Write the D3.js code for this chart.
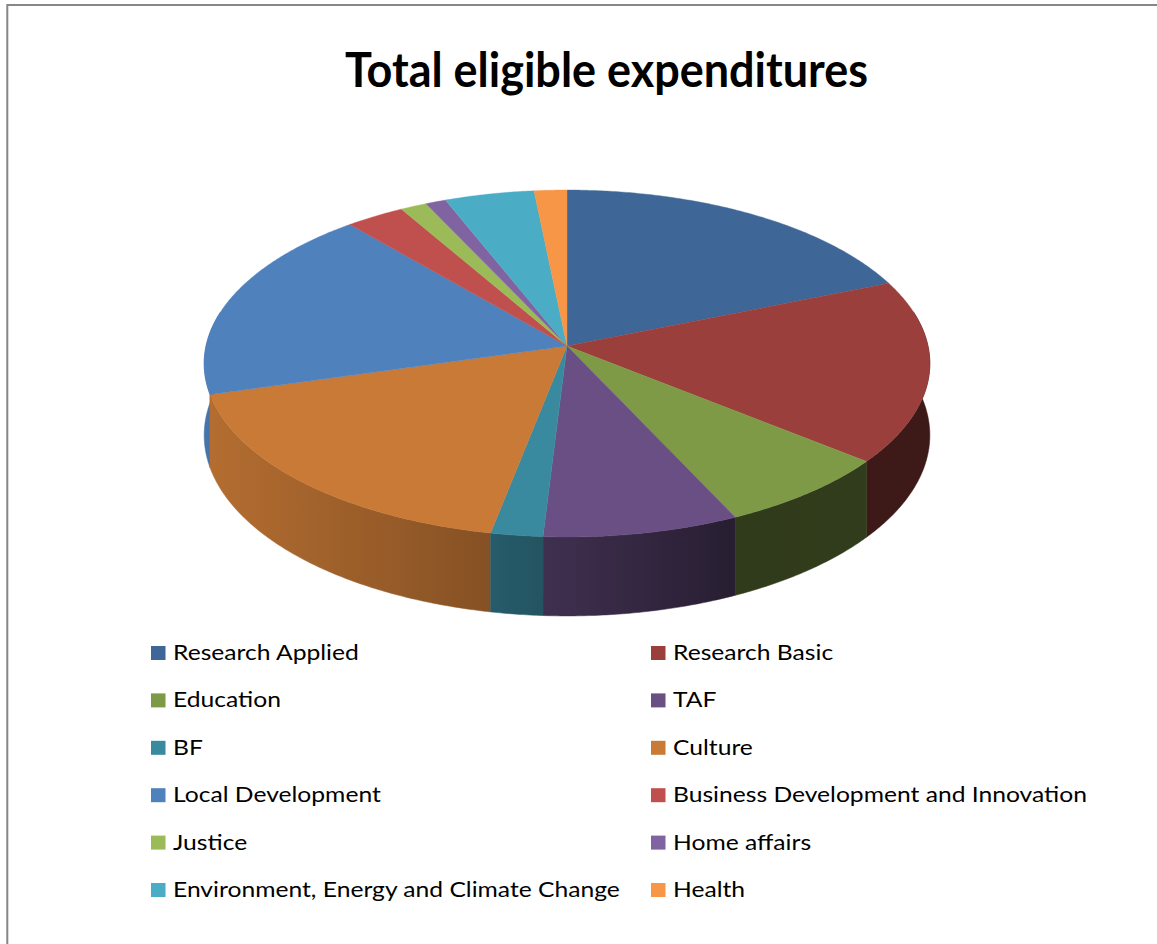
<!DOCTYPE html>
<html>
<head>
<meta charset="utf-8">
<script src="https://cdn.jsdelivr.net/npm/d3@7"></script>
<style>
  html, body { margin: 0; padding: 0; background: #fff; }
  svg { display: block; }
</style>
</head>
<body>
<svg id="chart" width="1157" height="944"></svg>
<script>
// Chart content
const chartTitle = "Total eligible expenditures";
const categories = [
  "Research Applied", "Research Basic", "Education", "TAF", "BF", "Culture",
  "Local Development", "Business Development and Innovation", "Justice",
  "Home affairs", "Environment, Energy and Climate Change", "Health"
];
// Share of total eligible expenditures (%)
const shares = [18.8, 17.0, 7.2, 7.9, 2.1, 17.5, 18.2, 2.9, 1.3, 1.0, 4.4, 1.6];
const sliceColors = [
  "#3e6798", "#9a3f3c", "#7e9a47", "#694f84", "#3a8a9f", "#c97a36",
  "#4f81bd", "#c0504d", "#9bbb59", "#8064a2", "#4bacc6", "#f79646"
];

const svg = d3.select("#chart");
const W = 1157, H = 944;
const defs = svg.append("defs");

// Frame
svg.append("path")
  .attr("d", `M7.3,${H} V5 H${W}`)
  .attr("fill", "none")
  .attr("stroke", "#878787")
  .attr("stroke-width", 2);

// Title
svg.append("text")
  .attr("x", 606.5).attr("y", 87)
  .attr("text-anchor", "middle")
  .attr("font-family", "Lato, 'Open Sans', sans-serif")
  .attr("font-weight", 700)
  .attr("font-size", 47)
  .attr("fill", "#000")
  .attr("textLength", 523)
  .attr("lengthAdjust", "spacingAndGlyphs")
  .text(chartTitle);

// 3D pie geometry: a tilted disc seen in perspective
const cx = 567, cy = 346;     // projected centre of the disc
const A = 361, B = 171.7;     // horizontal / vertical radii
const persp = 0.1009;         // perspective strength
const depth = 71;             // thickness of the disc

function project(theta, r, drop) {
  const u = r * Math.sin(theta), v = r * Math.cos(theta);
  const w = 1 + persp * v;
  return [cx + A * u / w, cy - B * v / w + drop * depth / w];
}

const color = d3.scaleOrdinal().domain(categories).range(sliceColors);
const pie = d3.pie().sort(null).value(d => d.value).startAngle(0).endAngle(2 * Math.PI);
const data = categories.map((c, i) => ({ name: c, value: shares[i] }));
const arcs = pie(data);

// Side lighting: brighter toward the left, dark toward the right
const shade = d3.scaleLinear()
  .domain([-1, -0.2, 0, 0.45, 1])
  .range([0.9, 0.66, 0.58, 0.38, 0.4])
  .clamp(true);

function shaded(c, f) {
  const col = d3.rgb(c);
  return d3.rgb(col.r * f, col.g * f, col.b * f).formatHex();
}

// One horizontal gradient per slice for its outer wall
const x0 = cx - A * 1.01, x1 = cx + A * 1.01;
const stopU = d3.range(0, 41).map(i => -1 + i / 20);
arcs.forEach((a, i) => {
  const g = defs.append("linearGradient")
    .attr("id", "side" + i)
    .attr("gradientUnits", "userSpaceOnUse")
    .attr("x1", x0).attr("y1", 0).attr("x2", x1).attr("y2", 0);
  g.selectAll("stop")
    .data(stopU)
    .join("stop")
    .attr("offset", u => (u + 1) / 2)
    .attr("stop-color", u => shaded(color(a.data.name), shade(u)));
});

// Outer wall path of a slice, limited to the part facing the viewer
const wallLimit = Math.acos(0.2);
function wallPath(a) {
  const lo = Math.max(a.startAngle, wallLimit);
  const hi = Math.min(a.endAngle, 2 * Math.PI - wallLimit);
  if (hi <= lo) return null;
  const n = Math.max(2, Math.ceil((hi - lo) / (Math.PI / 360)));
  const topPts = [], botPts = [];
  for (let j = 0; j <= n; j++) {
    const t = lo + (hi - lo) * j / n;
    topPts.push(project(t, 1, 0));
    botPts.push(project(t, 1, 1));
  }
  const pts = topPts.concat(botPts.reverse());
  return "M" + pts.map(p => p.join(",")).join("L") + "Z";
}

const walls = arcs
  .map((a, i) => ({ a, i, d: wallPath(a), v: Math.cos((a.startAngle + a.endAngle) / 2) }))
  .filter(w => w.d)
  .sort((p, q) => q.v - p.v);

const pieG = svg.append("g");
pieG.append("g").selectAll("path")
  .data(walls)
  .join("path")
  .attr("d", w => w.d)
  .attr("fill", w => `url(#side${w.i})`)
  .attr("stroke", w => `url(#side${w.i})`)
  .attr("stroke-width", 0.5)
  .attr("stroke-linejoin", "round");

// Top faces
function topPath(a) {
  const n = Math.max(2, Math.ceil((a.endAngle - a.startAngle) / (Math.PI / 360)));
  const pts = [[cx, cy]];
  for (let j = 0; j <= n; j++) {
    const t = a.startAngle + (a.endAngle - a.startAngle) * j / n;
    pts.push(project(t, 1, 0));
  }
  return "M" + pts.map(p => p.join(",")).join("L") + "Z";
}
pieG.append("g").selectAll("path")
  .data(arcs)
  .join("path")
  .attr("d", topPath)
  .attr("fill", d => color(d.data.name))
  .attr("stroke", d => color(d.data.name))
  .attr("stroke-width", 0.4);

// Legend: two columns, filled row by row
const colX = d3.scaleOrdinal().domain([0, 1]).range([151, 651]);
const rowY = d3.scaleLinear().domain([0, 5]).range([660, 897]);

const legend = svg.append("g")
  .attr("font-family", "Lato, 'Open Sans', sans-serif")
  .attr("font-size", 21)
  .attr("fill", "#000");

const items = legend.selectAll("g")
  .data(categories)
  .join("g")
  .attr("transform", (d, i) => `translate(${colX(i % 2)},${rowY(Math.floor(i / 2))})`);

items.append("rect")
  .attr("x", 0).attr("y", -14)
  .attr("width", 14.5).attr("height", 14)
  .attr("fill", d => color(d));

const labels = items.append("text")
  .attr("x", 22).attr("y", 0)
  .text(d => d);

// Horizontal fit of label widths
const refIdx = categories.indexOf("Business Development and Innovation");
const refW = labels.nodes()[refIdx].getComputedTextLength();
const ratio = 414 / refW;
labels.each(function () {
  const w = this.getComputedTextLength();
  d3.select(this).attr("textLength", w * ratio).attr("lengthAdjust", "spacingAndGlyphs");
});
</script>
</body>
</html>
